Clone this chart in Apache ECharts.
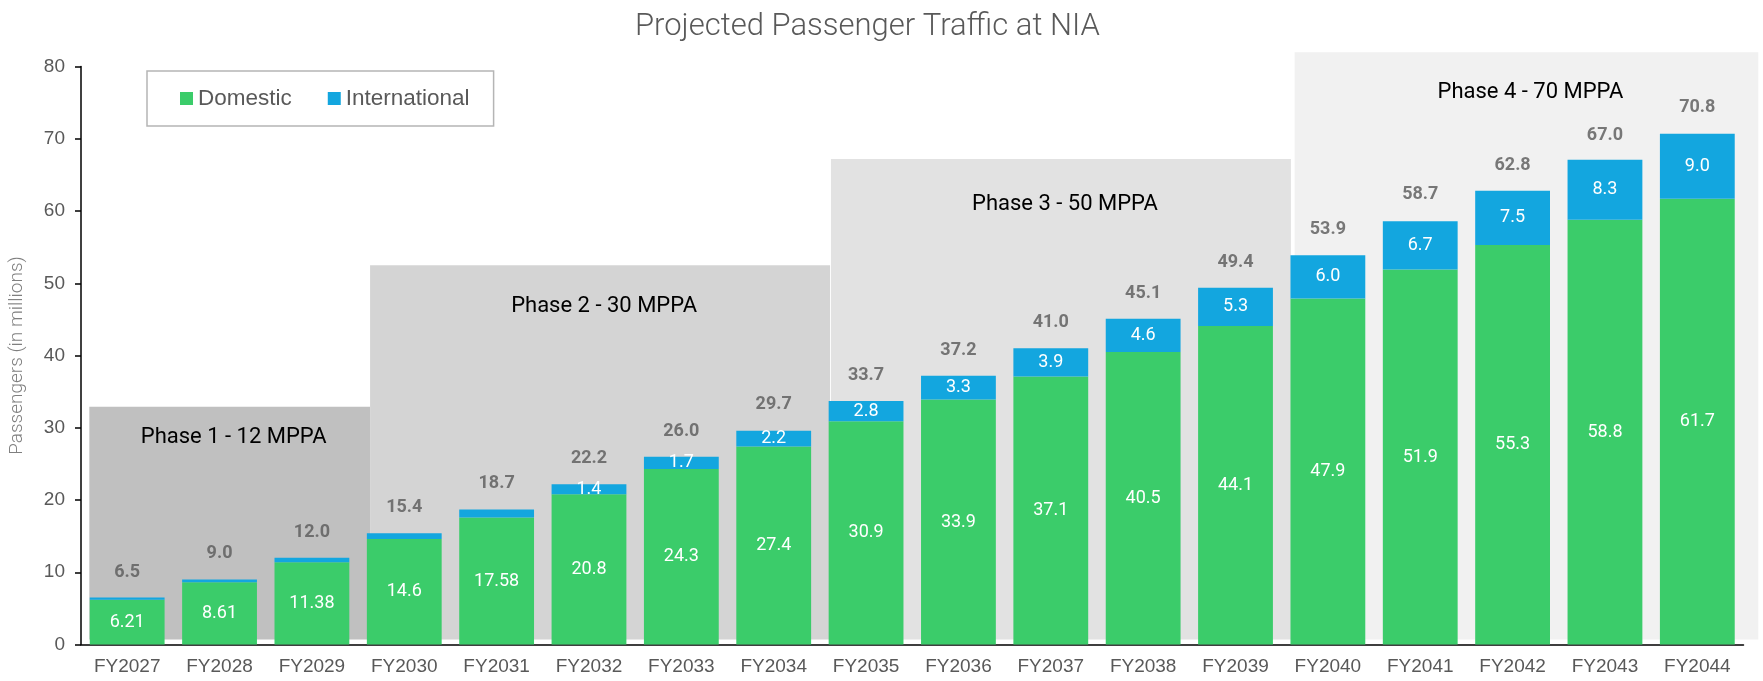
<!DOCTYPE html>
<html>
<head>
<meta charset="utf-8">
<script src="https://cdn.jsdelivr.net/npm/echarts@6/dist/echarts.min.js"></script>
<style>
html,body{margin:0;padding:0;background:#fff;}
#chart{width:1763px;height:681px;}
</style>
</head>
<body>
<div id="chart"></div>
<script>
const categories = ['FY2027','FY2028','FY2029','FY2030','FY2031','FY2032','FY2033','FY2034','FY2035','FY2036','FY2037','FY2038','FY2039','FY2040','FY2041','FY2042','FY2043','FY2044'];
const domestic = [6.21, 8.61, 11.38, 14.6, 17.58, 20.8, 24.3, 27.4, 30.9, 33.9, 37.1, 40.5, 44.1, 47.9, 51.9, 55.3, 58.8, 61.7];
const international = [0.29, 0.39, 0.62, 0.8, 1.12, 1.4, 1.7, 2.2, 2.8, 3.3, 3.9, 4.6, 5.3, 6.0, 6.7, 7.5, 8.3, 9.0];
const totals = [6.5, 9.0, 12.0, 15.4, 18.7, 22.2, 26.0, 29.7, 33.7, 37.2, 41.0, 45.1, 49.4, 53.9, 58.7, 62.8, 67.0, 70.8];
const yTicks = [0, 10, 20, 30, 40, 50, 60, 70, 80];
// phase shading: start / end in category units, top value, label, colour
const phaseStart = [-0.41, 2.63, 7.62, 12.64];
const phaseEnd = [2.63, 7.61, 12.6, 17.66];
const phaseTop = [32.9, 52.5, 67.2, 82];
const phaseLabels = ['Phase 1 - 12 MPPA', 'Phase 2 - 30 MPPA', 'Phase 3 - 50 MPPA', 'Phase 4 - 70 MPPA'];
const phaseColors = ['#c0c0c0', '#d4d4d4', '#e2e2e2', '#f1f1f1'];
const phaseLabelOffset = [31, 41, 45, 40];

const phaseData = phaseStart.map((s, i) => [s, phaseEnd[i], phaseTop[i], 0.7, i]);

const chart = echarts.init(document.getElementById('chart'), null, {renderer: 'canvas'});
const option = {
  backgroundColor: '#fff',
  animation: false,
  title: {
    text: 'Projected Passenger Traffic at NIA',
    left: 630,
    top: 7,
    textStyle: {fontFamily: 'Roboto', fontWeight: 300, fontSize: 31, color: '#595959'}
  },
  legend: {
    data: ['Domestic', 'International'],
    left: 147,
    top: 71,
    padding: [16, 24, 16, 33],
    itemGap: 36,
    itemWidth: 13,
    itemHeight: 13,
    icon: 'rect',
    borderColor: '#b5b5b5',
    borderWidth: 1.5,
    backgroundColor: '#fff',
    textStyle: {fontFamily: 'Liberation Sans', fontSize: 22.5, color: '#595959'}
  },
  grid: {left: 81, right: 19.5, top: 66.6, bottom: 36.5, containLabel: false},
  xAxis: {
    type: 'category',
    data: categories,
    axisLine: {lineStyle: {color: '#000', width: 1.5}},
    axisTick: {show: false},
    axisLabel: {fontFamily: 'Liberation Sans', fontSize: 19, color: '#595959', margin: 13}
  },
  yAxis: {
    type: 'value',
    min: yTicks[0],
    max: yTicks[yTicks.length - 1],
    interval: 10,
    name: 'Passengers (in millions)',
    nameLocation: 'middle',
    nameGap: 54,
    nameTextStyle: {fontFamily: 'Roboto', fontWeight: 300, fontSize: 19, color: '#7f7f7f'},
    axisLine: {show: true, lineStyle: {color: '#000', width: 1.5}},
    axisTick: {show: true, length: 6, lineStyle: {color: '#000', width: 1.5}},
    splitLine: {show: false},
    axisLabel: {fontFamily: 'Liberation Sans', fontSize: 19, color: '#595959', margin: 16}
  },
  series: [
    {
      type: 'custom',
      name: 'phases',
      silent: true,
      clip: false,
      z: 0,
      encode: {x: 0, y: 2},
      data: phaseData,
      renderItem: function (params, api) {
        const i = api.value(4);
        const c0 = api.coord([0, 0]);
        const band = api.size([1, 0])[0];
        const x1 = c0[0] + api.value(0) * band;
        const x2 = c0[0] + api.value(1) * band;
        const yTop = api.coord([0, api.value(2)])[1];
        const yBot = api.coord([0, api.value(3)])[1];
        return {
          type: 'group',
          children: [
            {type: 'rect', shape: {x: x1, y: yTop, width: x2 - x1, height: yBot - yTop}, style: {fill: phaseColors[i]}},
            {type: 'text', style: {x: (x1 + x2) / 2 + 4, y: yTop + phaseLabelOffset[i], text: phaseLabels[i], fill: '#000', font: '400 22px Roboto', textAlign: 'center', textVerticalAlign: 'middle'}}
          ]
        };
      }
    },
    {
      name: 'Domestic',
      type: 'bar',
      stack: 'total',
      barWidth: '81%',
      z: 2,
      itemStyle: {color: '#3bcc6a'},
      label: {show: true, position: 'inside', color: '#fff', fontFamily: 'Roboto', fontSize: 18},
      data: domestic
    },
    {
      name: 'International',
      type: 'bar',
      stack: 'total',
      barWidth: '81%',
      z: 2,
      itemStyle: {color: '#13a6df'},
      label: {
        show: true, position: 'inside', color: '#fff', fontFamily: 'Roboto', fontSize: 18,
        formatter: p => (p.value >= 1.3 ? p.value.toFixed(1) : '')
      },
      data: international
    },
    {
      name: 'Total',
      type: 'scatter',
      symbolSize: 1,
      z: 3,
      itemStyle: {color: 'rgba(0,0,0,0)'},
      label: {
        show: true, position: 'top', distance: 16, color: '#595959', fontFamily: 'Roboto', fontWeight: 'bold', fontSize: 18,
        formatter: p => p.value.toFixed(1)
      },
      data: totals
    }
  ]
};
chart.setOption(option);
</script>
</body>
</html>
